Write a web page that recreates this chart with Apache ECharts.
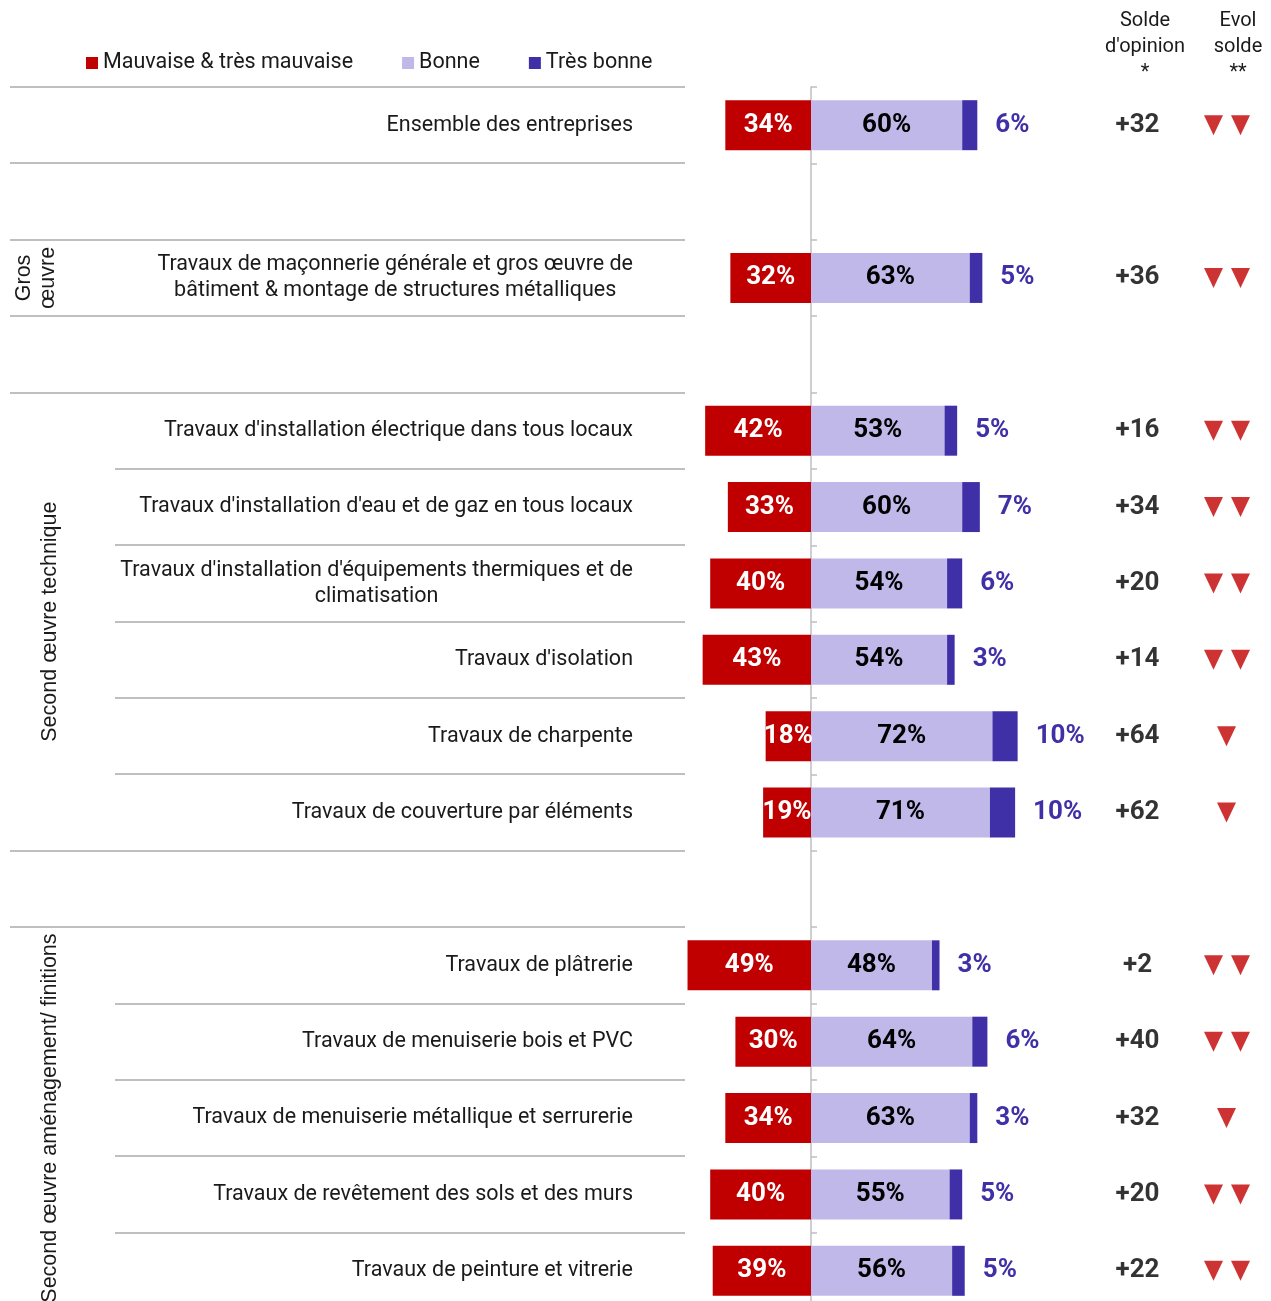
<!DOCTYPE html>
<html>
<head>
<meta charset="utf-8">
<script src="https://cdn.jsdelivr.net/npm/echarts@6/dist/echarts.min.js"></script>
<style>
  html, body { margin: 0; padding: 0; background: #ffffff; }
  #chart { width: 1271px; height: 1301px; }
</style>
</head>
<body>
<div id="chart"></div>
<script>
  // rows, top to bottom ('' = empty spacer row)
  const categories = [
    "Ensemble des entreprises",
    "",
    "Travaux de maçonnerie générale et gros œuvre de\nbâtiment & montage de structures métalliques",
    "",
    "Travaux d'installation électrique dans tous locaux",
    "Travaux d'installation d'eau et de gaz en tous locaux",
    "Travaux d'installation d'équipements thermiques et de\nclimatisation",
    "Travaux d'isolation",
    "Travaux de charpente",
    "Travaux de couverture par éléments",
    "",
    "Travaux de plâtrerie",
    "Travaux de menuiserie bois et PVC",
    "Travaux de menuiserie métallique et serrurerie",
    "Travaux de revêtement des sols et des murs",
    "Travaux de peinture et vitrerie"
  ];
  const mauvaise = [34, null, 32, null, 42, 33, 40, 43, 18, 19, null, 49, 30, 34, 40, 39];
  const bonne = [60, null, 63, null, 53, 60, 54, 54, 72, 71, null, 48, 64, 63, 55, 56];
  const tresBonne = [6, null, 5, null, 5, 7, 6, 3, 10, 10, null, 3, 6, 3, 5, 5];
  const solde = ["+32", null, "+36", null, "+16", "+34", "+20", "+14", "+64", "+62", null, "+2", "+40", "+32", "+20", "+22"];
  const evolArrows = [2, 0, 2, 0, 2, 2, 2, 2, 1, 1, 0, 2, 2, 1, 2, 2];

  // row groups on the left
  const groupNames = ["Gros\nœuvre", "Second œuvre technique", "Second œuvre aménagement/ finitions"];
  const groupStart = [2, 4, 11];
  const groupEnd = [2, 9, 15];

  const RED = "#C00000";
  const LAVENDER = "#BFB8E8";
  const PURPLE = "#4030A8";
  const GRAY = "#BFBFBF";
  const LABEL_FONT = "21.5px Roboto";

  const rowIdx = categories.map((c, i) => i);

  // separator line at the top of each row: full width outside groups, short inside
  const separators = rowIdx.map((i) => {
    let inside = false;
    for (let g = 0; g < groupStart.length; g++) {
      if (i > groupStart[g] && i <= groupEnd[g]) inside = true;
    }
    return [i, inside ? 1 : 0];
  });

  let soldeData = [];
  let arrowsLeft = [];
  let arrowsRight = [];
  let arrowsSingle = [];
  for (let i = 0; i < categories.length; i++) {
    if (solde[i]) soldeData.push([0, i, solde[i]]);
    if (evolArrows[i] == 2) {
      arrowsLeft.push([1, i]);
      arrowsRight.push([1, i]);
    } else if (evolArrows[i] == 1) {
      arrowsSingle.push([1, i]);
    }
  }

  // widest line of a label, so multi-line labels can be centred but right-aligned as a block
  const measureCtx = document.createElement("canvas").getContext("2d");
  function blockWidth(str) {
    measureCtx.font = LABEL_FONT;
    return Math.max(...str.split("\n").map((s) => measureCtx.measureText(s).width));
  }

  const chart = echarts.init(document.getElementById("chart"));

  const gridTop = 87;
  const gridHeight = 1222;

  let option = {
    backgroundColor: "#ffffff",
    animation: false,
    textStyle: { fontFamily: "Roboto" },
    legend: {
      left: 86,
      top: 52,
      padding: 0,
      itemWidth: 12,
      itemHeight: 12,
      itemGap: 49,
      icon: "rect",
      textStyle: { fontSize: 21.5, color: "#1a1a1a", fontFamily: "Roboto" },
      data: ["Mauvaise & très mauvaise", "Bonne", "Très bonne"]
    },
    graphic: [
      {
        type: "text",
        x: 1145,
        y: 8,
        style: {
          text: "Solde\nd'opinion\n*",
          font: "20px Roboto",
          fill: "#1a1a1a",
          align: "center",
          lineHeight: 26
        }
      },
      {
        type: "text",
        x: 1238,
        y: 8,
        style: {
          text: "Evol\nsolde\n**",
          font: "20px Roboto",
          fill: "#1a1a1a",
          align: "center",
          lineHeight: 26
        }
      }
    ],
    grid: [
      { left: 685, top: gridTop, width: 352.8, height: gridHeight, outerBoundsMode: "none" },
      { left: 10, top: gridTop, width: 675, height: gridHeight, outerBoundsMode: "none" },
      { left: 1093, top: gridTop, width: 178, height: gridHeight, outerBoundsMode: "none" }
    ],
    xAxis: [
      { gridIndex: 0, type: "value", min: -50, max: 90, show: false },
      { gridIndex: 1, type: "value", min: 0, max: 675, show: false },
      { gridIndex: 2, type: "category", data: ["solde", "evol"], show: false }
    ],
    yAxis: [
      {
        gridIndex: 0,
        type: "category",
        inverse: true,
        data: categories,
        axisLine: { show: true, onZero: true, lineStyle: { color: GRAY, width: 1.5 } },
        axisTick: { show: true, inside: true, length: 6, lineStyle: { color: GRAY, width: 1.5 } },
        axisLabel: { show: false },
        splitLine: { show: false }
      },
      { gridIndex: 1, type: "category", inverse: true, data: categories, show: false },
      { gridIndex: 2, type: "category", inverse: true, data: categories, show: false }
    ],
    series: [
      {
        name: "Mauvaise & très mauvaise",
        type: "bar",
        stack: "total",
        xAxisIndex: 0,
        yAxisIndex: 0,
        barWidth: 50,
        itemStyle: { color: RED },
        data: mauvaise.map((v) => (v == null ? "-" : -v)),
        label: {
          show: true,
          position: "inside",
          color: "#ffffff",
          fontSize: 26,
          fontWeight: "bold",
          formatter: (p) => Math.abs(p.value) + "%"
        }
      },
      {
        name: "Bonne",
        type: "bar",
        stack: "total",
        xAxisIndex: 0,
        yAxisIndex: 0,
        barWidth: 50,
        itemStyle: { color: LAVENDER },
        data: bonne.map((v) => (v == null ? "-" : v)),
        label: {
          show: true,
          position: "inside",
          color: "#000000",
          fontSize: 26,
          fontWeight: "bold",
          formatter: "{c}%"
        }
      },
      {
        name: "Très bonne",
        type: "bar",
        stack: "total",
        xAxisIndex: 0,
        yAxisIndex: 0,
        barWidth: 50,
        itemStyle: { color: PURPLE },
        data: tresBonne.map((v) => (v == null ? "-" : v)),
        label: {
          show: true,
          position: "right",
          distance: 18,
          color: PURPLE,
          fontSize: 26,
          fontWeight: "bold",
          formatter: "{c}%"
        }
      },
      {
        // separator lines between rows
        type: "custom",
        xAxisIndex: 1,
        yAxisIndex: 1,
        silent: true,
        data: separators,
        renderItem: function (params, api) {
          let center = api.coord([0, api.value(0)]);
          let band = api.size([0, 1])[1];
          let y = Math.round(center[1] - band / 2);
          let x0 = api.value(1) == 1 ? api.coord([105, 0])[0] : api.coord([0, 0])[0];
          let x1 = api.coord([675, 0])[0];
          return {
            type: "line",
            shape: { x1: x0, y1: y, x2: x1, y2: y },
            style: { stroke: GRAY, lineWidth: 2 }
          };
        }
      },
      {
        // row labels
        type: "custom",
        xAxisIndex: 1,
        yAxisIndex: 1,
        silent: true,
        data: rowIdx.filter((i) => categories[i] !== "").map((i) => [623, i]),
        renderItem: function (params, api) {
          let pos = api.coord([api.value(0), api.value(1)]);
          let text = categories[api.value(1)];
          return {
            type: "text",
            x: pos[0] - blockWidth(text) / 2,
            y: pos[1],
            style: {
              text: text,
              font: LABEL_FONT,
              fill: "#1a1a1a",
              align: "center",
              verticalAlign: "middle",
              lineHeight: 26
            }
          };
        }
      },
      {
        // group titles, rotated
        type: "custom",
        xAxisIndex: 1,
        yAxisIndex: 1,
        silent: true,
        data: groupNames.map((n, g) => [g]),
        renderItem: function (params, api) {
          let g = api.value(0);
          let yA = api.coord([0, groupStart[g]])[1];
          let yB = api.coord([0, groupEnd[g]])[1];
          let x = api.coord([groupStart[g] == groupEnd[g] ? 26 : 40, 0])[0];
          return {
            type: "text",
            x: x,
            y: (yA + yB) / 2,
            rotation: Math.PI / 2,
            style: {
              text: groupNames[g],
              font: "21.5px 'Liberation Sans'",
              fill: "#1a1a1a",
              align: "center",
              verticalAlign: "middle",
              lineHeight: 24
            }
          };
        }
      },
      {
        type: "scatter",
        xAxisIndex: 2,
        yAxisIndex: 2,
        symbolSize: 0,
        silent: true,
        data: soldeData,
        label: {
          show: true,
          position: "inside",
          color: "#000000",
          fontSize: 26,
          fontWeight: "bold",
          formatter: (p) => p.value[2]
        }
      },
      {
        type: "scatter",
        xAxisIndex: 2,
        yAxisIndex: 2,
        symbol: "triangle",
        symbolRotate: 180,
        symbolSize: [19, 20],
        symbolOffset: [-13, 0],
        itemStyle: { color: RED },
        silent: true,
        data: arrowsLeft
      },
      {
        type: "scatter",
        xAxisIndex: 2,
        yAxisIndex: 2,
        symbol: "triangle",
        symbolRotate: 180,
        symbolSize: [19, 20],
        symbolOffset: [14, 0],
        itemStyle: { color: RED },
        silent: true,
        data: arrowsRight
      },
      {
        type: "scatter",
        xAxisIndex: 2,
        yAxisIndex: 2,
        symbol: "triangle",
        symbolRotate: 180,
        symbolSize: [19, 20],
        itemStyle: { color: RED },
        silent: true,
        data: arrowsSingle
      }
    ]
  };

  chart.setOption(option);
</script>
</body>
</html>
